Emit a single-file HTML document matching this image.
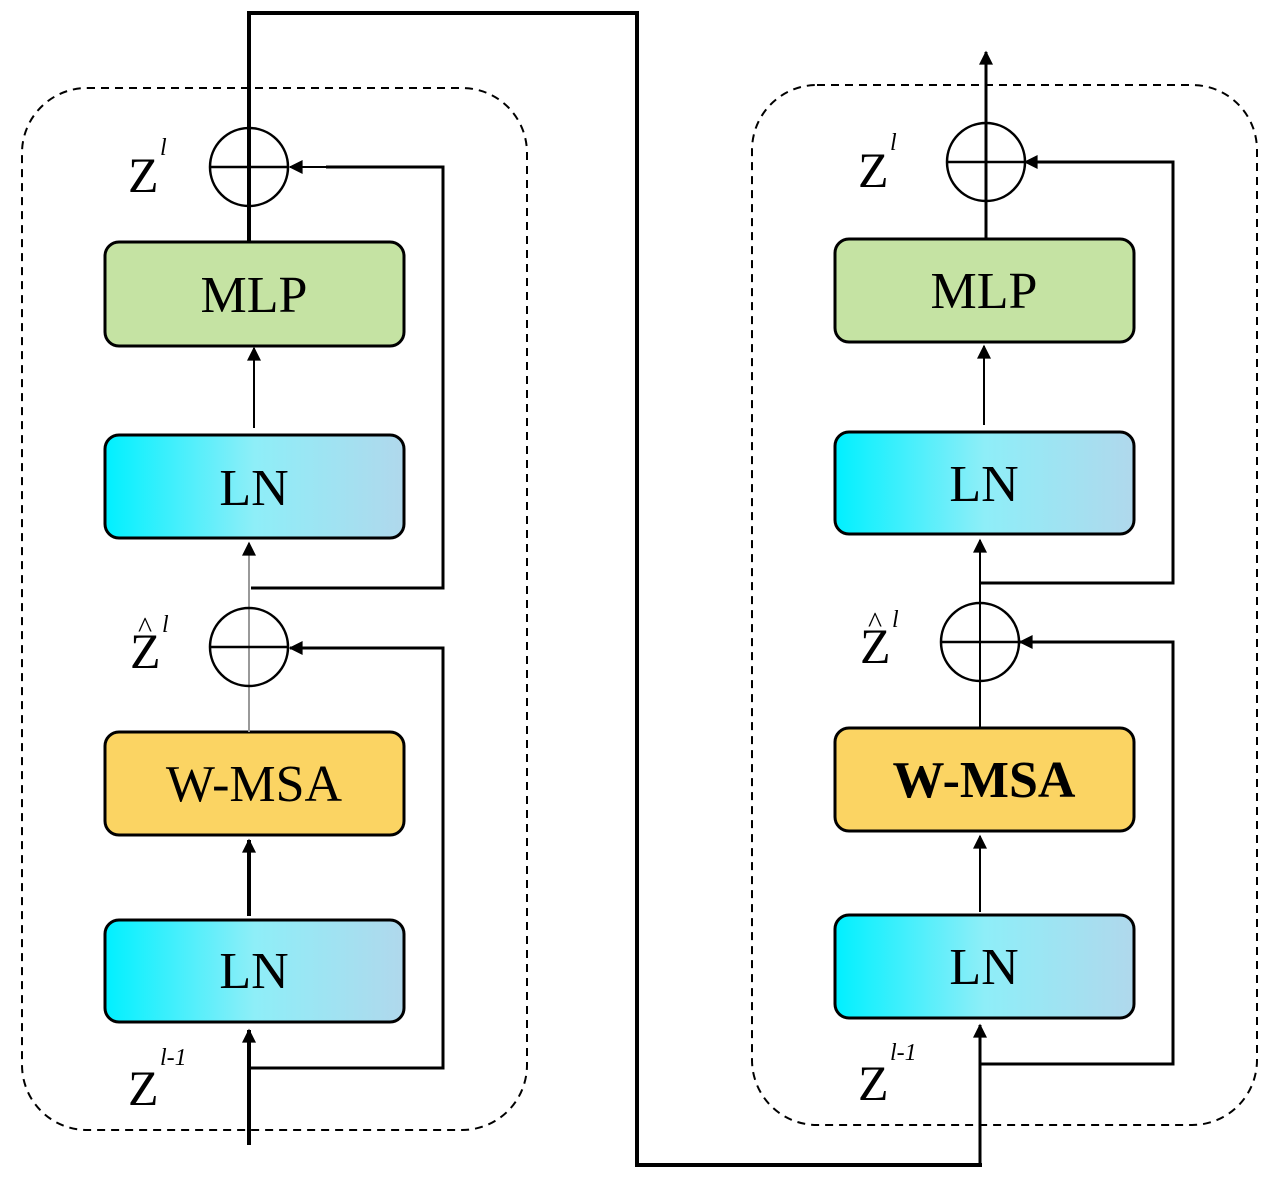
<!DOCTYPE html>
<html><head><style>html,body{margin:0;padding:0;background:#fff;}svg{display:block}</style></head><body>
<svg width="1282" height="1179" viewBox="0 0 1282 1179" xmlns="http://www.w3.org/2000/svg" font-family="'Liberation Serif', serif">
<defs>
<linearGradient id="ln" x1="0" x2="1" y1="0" y2="0"><stop offset="0" stop-color="#00f0ff"/><stop offset="0.5" stop-color="#8eeef8"/><stop offset="1" stop-color="#b0d8ec"/></linearGradient>
<marker id="a" viewBox="0 0 10 10" refX="9" refY="5" markerWidth="16" markerHeight="14" markerUnits="userSpaceOnUse" orient="auto"><path d="M0,0L10,5L0,10z" fill="#000"/></marker>
</defs>
<g fill="none" stroke="#000">
<rect x="22" y="88" width="505" height="1042" rx="65" stroke-width="2" stroke-dasharray="8,6"/>
<rect x="752" y="85" width="505" height="1040" rx="65" stroke-width="2" stroke-dasharray="8,6"/>
</g>
<g stroke="#000" stroke-width="3">
<rect x="105" y="242" width="299" height="104" rx="14" fill="#c5e3a3"/>
<rect x="105" y="435" width="299" height="103" rx="14" fill="url(#ln)"/>
<rect x="105" y="732" width="299" height="103" rx="14" fill="#fbd463"/>
<rect x="105" y="920" width="299" height="102" rx="14" fill="url(#ln)"/>
<rect x="835" y="239" width="299" height="103" rx="14" fill="#c5e3a3"/>
<rect x="835" y="432" width="299" height="102" rx="14" fill="url(#ln)"/>
<rect x="835" y="728" width="299" height="103" rx="14" fill="#fbd463"/>
<rect x="835" y="915" width="299" height="103" rx="14" fill="url(#ln)"/>
</g>
<g font-size="52" text-anchor="middle" fill="#000">
<text x="254" y="312">MLP</text>
<text x="254" y="505">LN</text>
<text x="254" y="801">W-MSA</text>
<text x="254" y="988">LN</text>
<text x="984" y="308">MLP</text>
<text x="984" y="501">LN</text>
<text x="984" y="797" font-weight="bold">W-MSA</text>
<text x="984" y="984">LN</text>
</g>
<g fill="none" stroke="#000" stroke-width="3">
<line x1="249" y1="1145" x2="249" y2="1030" marker-end="url(#a)" stroke-width="4"/>
<polyline points="251,1068 443,1068 443,648 290,648" marker-end="url(#a)"/>
<line x1="249" y1="916" x2="249" y2="840" marker-end="url(#a)" stroke-width="4"/>
<line x1="249" y1="732" x2="249" y2="543" stroke="#999" stroke-width="2" marker-end="url(#a)"/>
<polyline points="251,588 443,588 443,167 326,167" stroke-width="3"/>
<line x1="326" y1="167" x2="290" y2="167" marker-end="url(#a)" stroke-width="2"/>
<line x1="254" y1="428" x2="254" y2="348" marker-end="url(#a)" stroke-width="2"/>
<polyline points="249,242 249,13 637,13 637,1165 982,1165" stroke-width="4"/>
<circle cx="249" cy="167" r="39" stroke-width="2.5"/>
<line x1="210" y1="167" x2="288" y2="167" stroke-width="2.5"/>
<circle cx="249" cy="647" r="39" stroke-width="2.5"/>
<line x1="210" y1="647" x2="288" y2="647" stroke-width="2.5"/>
<line x1="980" y1="1165" x2="980" y2="1025" marker-end="url(#a)"/>
<polyline points="980,1064 1173,1064 1173,642 1020,642" marker-end="url(#a)"/>
<line x1="980" y1="912" x2="980" y2="836" marker-end="url(#a)" stroke-width="2"/>
<line x1="980" y1="728" x2="980" y2="540" marker-end="url(#a)" stroke-width="2"/>
<polyline points="980,583 1173,583 1173,162 1025,162" marker-end="url(#a)"/>
<line x1="984" y1="425" x2="984" y2="346" marker-end="url(#a)" stroke-width="2"/>
<line x1="986" y1="239" x2="986" y2="52" marker-end="url(#a)"/>
<circle cx="986" cy="162" r="39" stroke-width="2.5"/>
<line x1="947" y1="162" x2="1025" y2="162" stroke-width="2.5"/>
<circle cx="980" cy="642" r="39" stroke-width="2.5"/>
<line x1="941" y1="642" x2="1019" y2="642" stroke-width="2.5"/>
</g>
<g font-size="50" fill="#000">
<text x="128" y="192">Z</text><text x="160" y="155" font-size="24" font-style="italic">l</text>
<text x="130" y="668">Z</text><text x="138" y="637" font-size="30">^</text><text x="162" y="632" font-size="24" font-style="italic">l</text>
<text x="128" y="1105">Z</text><text x="160" y="1065" font-size="24" font-style="italic">l-1</text>
<text x="858" y="187">Z</text><text x="890" y="150" font-size="24" font-style="italic">l</text>
<text x="860" y="663">Z</text><text x="868" y="632" font-size="30">^</text><text x="892" y="627" font-size="24" font-style="italic">l</text>
<text x="858" y="1100">Z</text><text x="890" y="1060" font-size="24" font-style="italic">l-1</text>
</g>
</svg>
</body></html>
